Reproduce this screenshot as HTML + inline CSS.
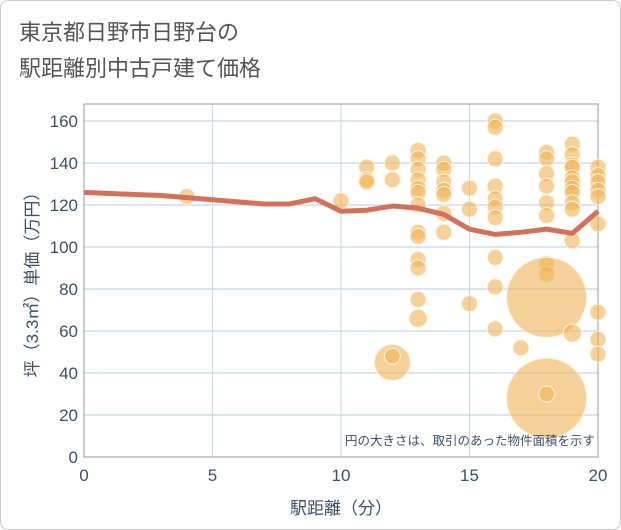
<!DOCTYPE html>
<html><head><meta charset="utf-8"><style>
body{margin:0;background:#fff;}
.card{position:absolute;left:0;top:0;width:619px;height:528px;border:1px solid #ccc;border-radius:8px;background:#fff;overflow:hidden;}
.title{position:absolute;left:18px;top:14px;font:22px/36px "Liberation Sans","Noto Sans CJK JP",sans-serif;color:#555;}
text{font-family:"Liberation Sans","Noto Sans CJK JP",sans-serif;}
</style></head><body>
<div class="card">
<div class="title">東京都日野市日野台の<br>駅距離別中古戸建て価格</div>
<svg id="chart" width="621" height="530" style="position:absolute;left:0;top:0"></svg>
</div>
<script>
const xTicks=[0,5,10,15,20];
const yTicks=[0,20,40,60,80,100,120,140,160];
const lineX=[0,1,2,3,4,5,6,7,8,9,10,11,12,13,14,15,16,17,18,19,20];
const lineY=[126,125.5,125,124.5,123.5,122.5,121.5,120.5,120.5,123,117,117.5,119.5,118.5,115.5,108.5,106,107,108.5,106.5,117];
const bubX=[4,10,11,11,11,12,12,12,12,13,13,13,13,13,13,13,13,13,13,13,13,13,14,14,14,14,14,14,14,15,15,15,16,16,16,16,16,16,16,16,16,16,17,18,18,18,18,18,18,18,18,18,18,18,19,19,19,19,19,19,19,19,19,19,19,19,20,20,20,20,20,20,20,20,20];
const bubY=[124,122,138,132,131,140,132,45,48,146,142,137,132,128,126,120,107,105,94,90,75,66,140,137,131,127,125,116,107,128,118,73,160,157,142,129,123,119,114,95,81,61,52,145,142,135,129,121,115,92,87,76,28,30,149,144,139,138,133,131,128,126,121,118,103,59,138,134,131,127,124,111,69,56,49];
const bubR=[8,8,8,8,8,8,8,18,8,8,8,8,8,8,8,8,8,8,8,8,8,9,8,8,8,8,8,8,8,8,8,8,8,8,8,8,8,8,8,8,8,8,8,8,8,8,8,8,8,8,8,40,40,8,8,8,8,8,8,8,8,8,8,8,8,9,8,8,8,8,8,8,8,8,8];
const L=83,R=597,T=103,B=456;
const sx=v=>L+(v-0)/20*(R-L);
const sy=v=>456-v*2.1;
const svg=document.getElementById('chart');
const NS='http://www.w3.org/2000/svg';
function mk(tag,attrs){const e=document.createElementNS(NS,tag);for(const k in attrs)e.setAttribute(k,attrs[k]);svg.appendChild(e);return e;}
yTicks.forEach(v=>{
 const g=mk('line',{x1:L,x2:R,y1:sy(v),y2:sy(v),stroke:'#b8cde0','stroke-width':1});
 
 
 const t=mk('text',{x:L-6,y:sy(v)+6,'text-anchor':'end','font-size':17,fill:'#3d4f6a'});t.textContent=v;
 
 
});
xTicks.forEach(v=>{
 const g=mk('line',{x1:sx(v),x2:sx(v),y1:T,y2:B,stroke:'#c8d6e4','stroke-width':1});
 
 
 const t=mk('text',{x:sx(v),y:B+24,'text-anchor':'middle','font-size':17,fill:'#3d4f6a'});t.textContent=v;
 
 
});
const fr=mk('rect',{x:L,y:T,width:R-L,height:B-T,fill:'none',stroke:'#999','stroke-width':1});


bubX.forEach((x,i)=>{
 const c=mk('circle',{cx:sx(x),cy:sy(bubY[i]),r:bubR[i],fill:'rgba(240,180,90,0.62)',stroke:'#fff3dd','stroke-width':1});
 
 
});
const p=mk('polyline',{points:lineX.map((x,i)=>sx(x)+','+sy(lineY[i])).join(' '),fill:'none',stroke:'#d4715a','stroke-width':5,'stroke-linejoin':'round'});


const n=mk('text',{x:R-3,y:B-12,'text-anchor':'end','font-size':12.5,fill:'#3d4f6a'});n.textContent='円の大きさは、取引のあった物件面積を示す';


const xt=mk('text',{x:sx(10),y:513,'text-anchor':'middle','font-size':17,fill:'#3d4f6a'});xt.textContent='駅距離（分）';


const yt=mk('text',{x:0,y:0,'text-anchor':'middle','font-size':17,fill:'#3d4f6a',transform:'translate(37,'+((T+B)/2)+') rotate(-90)'});yt.textContent='坪（3.3㎡）単価（万円）';


</script>
</body></html>
